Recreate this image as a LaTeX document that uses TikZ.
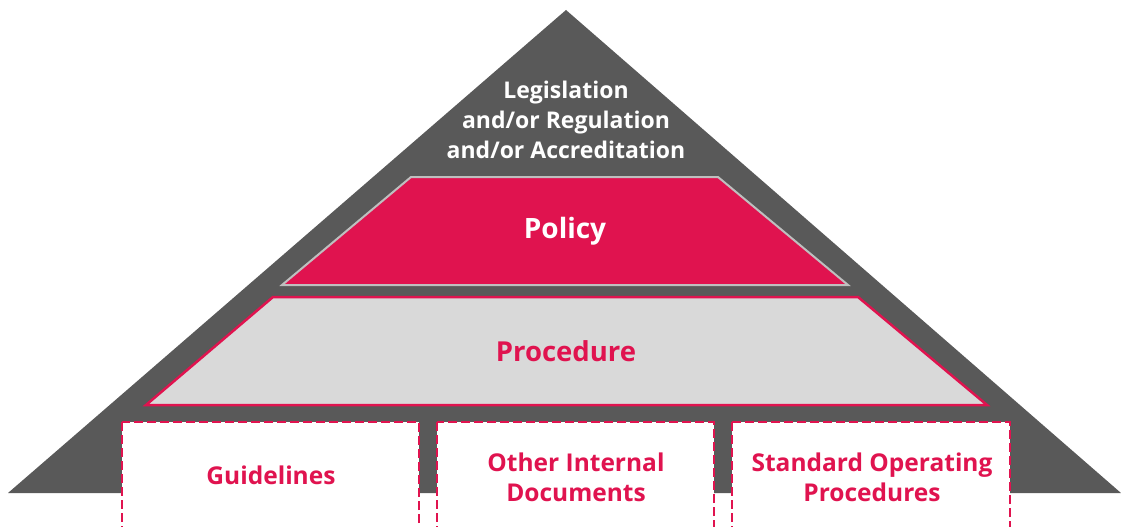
\documentclass[tikz,border=0pt]{standalone}
\usepackage{fontspec}
\setmainfont{Open Sans}
\definecolor{dk}{RGB}{89,89,89}
\definecolor{crim}{RGB}{224,19,79}
\definecolor{lg}{RGB}{217,217,217}
\definecolor{edge}{RGB}{191,191,191}
\tikzset{
  lbl/.style={align=center,font=\bfseries\fontsize{#1}{30}\selectfont},
  wlbl/.style={lbl=#1,text=white},
  clbl/.style={lbl=#1,text=crim},
  dbox/.style={fill=white,draw=crim,line width=1.2pt,dash pattern=on 9pt off 4pt},
}
\begin{document}
\begin{tikzpicture}[x=1pt,y=-1pt]
\useasboundingbox (0,0) rectangle (1121,527);
\clip (0,0) rectangle (1121,527);
% outer triangle
\fill[dk] (566,10) -- (1121,493) -- (8,493) -- cycle;
% policy
\filldraw[fill=crim,draw=edge,line width=2pt,line join=miter]
  (411,177) -- (718,177) -- (848,285) -- (282,285) -- cycle;
% procedure
\filldraw[fill=lg,draw=crim,line width=2.5pt,line join=miter]
  (273,297) -- (858,297) -- (987,405) -- (146,405) -- cycle;
% boxes
\draw[dbox] (122,422) rectangle (419,545);
\draw[dbox] (437,422) rectangle (714,545);
\draw[dbox] (732,422) rectangle (1010,545);
% labels
\node[wlbl=23] (leg) at (566,120) {Legislation\\and/or Regulation\\and/or Accreditation};
\node[wlbl=28] (pol) at (565,231) {Policy};
\node[clbl=27.5] (pro) at (566,351) {Procedure};
\node[clbl=24.5] (gui) at (271,475) {Guidelines};
\node[clbl=24.5] (oth) at (576,477) {Other Internal\\Documents};
\node[clbl=24.5] (sop) at (872,477) {Standard Operating\\Procedures};
\end{tikzpicture}
\end{document}
